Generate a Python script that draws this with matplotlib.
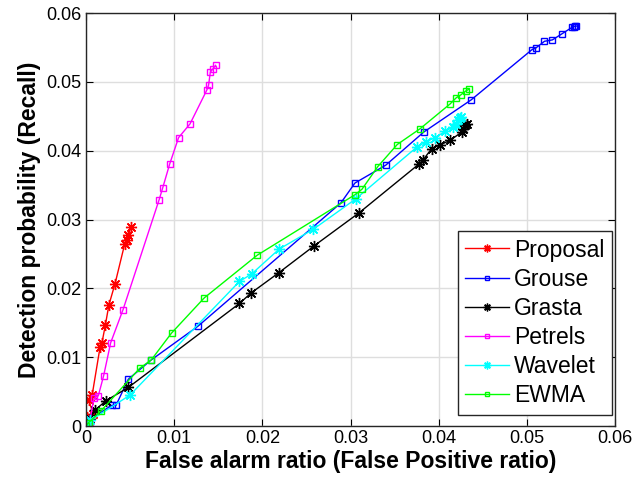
import numpy as np
import matplotlib.pyplot as plt

plt.rcParams['font.family'] = ['Liberation Sans', 'DejaVu Sans']

# false alarm ratio (x) / detection probability (y) for each method
proposal_x = [0, 0.0001, 0.0008, 0.0003, 0.0007, 0.0016, 0.0018, 0.0022, 0.0026, 0.0033, 0.0044, 0.0046, 0.0048, 0.0051]
proposal_y = [0, 0.0013, 0.0018, 0.0038, 0.0045, 0.0115, 0.0120, 0.0147, 0.0176, 0.0207, 0.0265, 0.0270, 0.0277, 0.0289]

grouse_x = [0, 0.0005, 0.0029, 0.0034, 0.0048, 0.0074, 0.0127, 0.0289, 0.0305, 0.0340, 0.0383, 0.0437,
            0.0506, 0.0510, 0.0520, 0.0529, 0.0540, 0.0551, 0.0553, 0.0555, 0.0556]
grouse_y = [0, 0.0010, 0.0030, 0.0030, 0.0068, 0.0096, 0.0145, 0.0324, 0.0353, 0.0379, 0.0427, 0.0474,
            0.0547, 0.0549, 0.0559, 0.0561, 0.0570, 0.0579, 0.0580, 0.0581, 0.0581]

grasta_x = [0, 0.0005, 0.0010, 0.0023, 0.0048, 0.0174, 0.0187, 0.0219, 0.0259, 0.0310, 0.0378, 0.0382,
            0.0392, 0.0401, 0.0413, 0.0426, 0.0428, 0.0430, 0.0432]
grasta_y = [0, 0.0010, 0.0023, 0.0037, 0.0056, 0.0178, 0.0193, 0.0223, 0.0262, 0.0310, 0.0381, 0.0386,
            0.0403, 0.0408, 0.0415, 0.0427, 0.0432, 0.0437, 0.0439]

petrels_x = [0.0001, 0.0004, 0.0009, 0.0014, 0.0020, 0.0028, 0.0042, 0.0083, 0.0087, 0.0095, 0.0105, 0.0118,
             0.0137, 0.0139, 0.0141, 0.0144, 0.0147]
petrels_y = [0, 0.0005, 0.0040, 0.0044, 0.0073, 0.0121, 0.0169, 0.0329, 0.0346, 0.0381, 0.0419, 0.0439,
             0.0488, 0.0495, 0.0514, 0.0519, 0.0524]

wavelet_x = [0, 0.0005, 0.0050, 0.0174, 0.0188, 0.0219, 0.0258, 0.0306, 0.0375, 0.0386, 0.0396, 0.0407,
             0.0416, 0.0420, 0.0422, 0.0424, 0.0425]
wavelet_y = [0, 0.0008, 0.0045, 0.0210, 0.0221, 0.0257, 0.0286, 0.0330, 0.0405, 0.0413, 0.0419, 0.0428,
             0.0434, 0.0439, 0.0444, 0.0447, 0.0449]

ewma_x = [0, 0.0003, 0.0017, 0.0061, 0.0074, 0.0097, 0.0134, 0.0194, 0.0305, 0.0313, 0.0331, 0.0353,
          0.0379, 0.0413, 0.0420, 0.0425, 0.0431, 0.0434]
ewma_y = [0, 0.0005, 0.0022, 0.0084, 0.0096, 0.0135, 0.0186, 0.0248, 0.0336, 0.0344, 0.0377, 0.0409,
          0.0432, 0.0468, 0.0477, 0.0481, 0.0487, 0.0489]

ticks = [0, 0.01, 0.02, 0.03, 0.04, 0.05, 0.06]
tick_labels = ['0', '0.01', '0.02', '0.03', '0.04', '0.05', '0.06']

star = (8, 2, 0)

fig = plt.figure(figsize=(6.37, 4.83), dpi=100)
ax = fig.add_axes([0.135, 0.118, 0.8305, 0.855])

ax.plot(proposal_x, proposal_y, color='red', marker=star, ms=8, lw=1, label='Proposal')
ax.plot(grouse_x, grouse_y, color='blue', marker='s', ms=5, mfc='none', lw=1, label='Grouse')
ax.plot(grasta_x, grasta_y, color='black', marker=star, ms=8, lw=1, label='Grasta')
ax.plot(petrels_x, petrels_y, color='magenta', marker='s', ms=5, mfc='none', lw=1, label='Petrels')
ax.plot(wavelet_x, wavelet_y, color='cyan', marker=star, ms=8, lw=1, label='Wavelet')
ax.plot(ewma_x, ewma_y, color='lime', marker='s', ms=5, mfc='none', lw=1, label='EWMA')

ax.set_xlim(0, 0.06)
ax.set_ylim(0, 0.06)
ax.set_xticks(ticks)
ax.set_yticks(ticks)
ax.set_xticklabels(tick_labels)
ax.set_yticklabels(tick_labels)
ax.tick_params(direction='in', labelsize=13, top=True, right=True, length=5, width=0.8, pad=3)
ax.grid(True, color='#dedede', lw=1)
ax.set_axisbelow(True)
for s in ax.spines.values():
    s.set_color('#262626')
    s.set_linewidth(1)

ax.set_xlabel('False alarm ratio (False Positive ratio)', fontsize=16.5, fontweight='bold', labelpad=2)
ax.set_ylabel('Detection probability (Recall)', fontsize=16.5, fontweight='bold', labelpad=4)

leg = ax.legend(loc='lower right', bbox_to_anchor=(612 / 637, 68 / 483), bbox_transform=fig.transFigure,
                fontsize=16.5, fancybox=False, framealpha=1, edgecolor='#262626',
                handlelength=1.9, handletextpad=0.22, borderpad=0.33, labelspacing=0.27,
                borderaxespad=0, markerscale=0.7)
leg.get_frame().set_linewidth(1)

plt.savefig('out.png', dpi=100)
